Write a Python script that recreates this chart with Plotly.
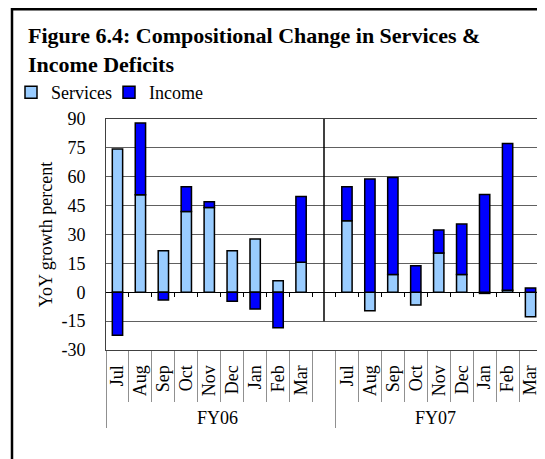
import plotly.graph_objects as go

months = ["Jul", "Aug", "Sep", "Oct", "Nov", "Dec", "Jan", "Feb", "Mar"]
fy06_services = [74.4, 50.6, 21.6, 41.9, 44.0, 21.6, 27.6, 6.0, 15.6]
fy06_income = [-22.4, 37.3, -4.0, 12.9, 3.0, -4.7, -8.7, -18.4, 34.1]
fy07_services = [37.1, -9.6, 9.2, -6.6, 20.4, 9.2, -0.6, 1.0, -12.7]
fy07_income = [17.7, 58.8, 50.4, 13.8, 12.0, 26.2, 50.8, 76.3, 2.2]
y_ticks = [-30, -15, 0, 15, 30, 45, 60, 75, 90]
y_tick_labels = ["-30", "-15", "0", "15", "30", "45", "60", "75", "90"]

# categories: FY06 months + blank gap, FY07 months
x_groups = ["FY06"] * 10 + ["FY07"] * 9
x_months = months + [" "] + months
services = fy06_services + [None] + fy07_services
income = fy06_income + [None] + fy07_income
n = len(x_months)

FONT = "Liberation Serif, Times New Roman, serif"
LIGHT = "#99CCFF"
DARK = "#0000FF"

W, H = 537, 451          # page body has an 8px margin
L, R, T, B = 98, 3, 111, 109
PW, PH = W - L - R, H - T - B

fig = go.Figure()
fig.add_trace(go.Bar(
    x=[x_groups, x_months], y=services, name="Services",
    marker=dict(color=LIGHT, line=dict(color="black", width=1.5)),
    width=0.45,
))
fig.add_trace(go.Bar(
    x=[x_groups, x_months], y=income, name="Income",
    marker=dict(color=DARK, line=dict(color="black", width=1.5)),
    width=0.45,
))
# helper traces for the overlay axes (cell dividers and zero-line ticks)
fig.add_trace(go.Scatter(x=[None], y=[None], xaxis="x2", mode="markers",
                         showlegend=False, hoverinfo="skip"))
fig.add_trace(go.Scatter(x=[None], y=[None], xaxis="x3", mode="markers",
                         showlegend=False, hoverinfo="skip"))

boundaries = [i + 0.5 for i in range(n - 1)]

fig.update_layout(
    width=W, height=H,
    margin=dict(l=L, r=R, t=T, b=B, autoexpand=False),
    paper_bgcolor="white", plot_bgcolor="white",
    barmode="relative",
    font=dict(family=FONT, size=18, color="black"),
    title=dict(
        text="<b>Figure 6.4: Compositional Change in Services &amp;<br>Income Deficits</b>",
        font=dict(family=FONT, size=22, color="black"),
        xref="container", yref="container", x=20 / W, xanchor="left",
        y=1 - 35 / H, yanchor="top",
    ),
    legend=dict(
        orientation="h", xref="container", yref="container",
        x=3 / W, xanchor="left", y=1 - 66 / H, yanchor="top",
        font=dict(family=FONT, size=18), bgcolor="rgba(0,0,0,0)",
        itemwidth=30, tracegroupgap=0, entrywidth=53,
    ),
    showlegend=True,
    xaxis=dict(
        type="multicategory", showgrid=False, ticks="",
        showline=True, linecolor="#404040", linewidth=1, mirror=True,
        tickangle=-90, tickfont=dict(family=FONT, size=18),
        ticklabelstandoff=7,
        showdividers=True, dividercolor="#909090", dividerwidth=1,
    ),
    xaxis2=dict(
        overlaying="x", anchor="y", side="bottom", type="linear",
        range=[-0.5, n - 0.5], tickvals=boundaries, ticks="outside",
        ticklen=51, tickcolor="#909090", tickwidth=1,
        showticklabels=False, showgrid=False, zeroline=False, showline=False,
    ),
    xaxis3=dict(
        overlaying="x", anchor="free", position=0.25, type="linear",
        range=[-0.5, n - 0.5], tickvals=boundaries, ticks="outside",
        ticklen=4, tickcolor="black", tickwidth=1,
        showticklabels=False, showgrid=False, zeroline=False,
        showline=True, linecolor="black", linewidth=1,
    ),
    yaxis=dict(
        range=[-30, 90], tickvals=y_ticks, ticktext=y_tick_labels,
        showgrid=True, gridcolor="#606060", gridwidth=1, zeroline=False,
        showline=True, linecolor="#404040", linewidth=1, mirror=True,
        ticks="outside", ticklen=16, tickcolor="rgba(0,0,0,0)",
        tickfont=dict(family=FONT, size=18),
        title=dict(text="YoY growth percent", font=dict(family=FONT, size=18),
                   standoff=4),
    ),
    shapes=[
        dict(type="line", xref="x2", yref="y", x0=9, x1=9, y0=-15, y1=90,
             line=dict(color="black", width=1.5)),
        dict(type="rect", xref="paper", yref="paper",
             x0=(4 - L) / PW, x1=(W + 10 - L) / PW,
             y0=(T + PH - (H + 10)) / PH, y1=(T + PH - 1.2) / PH,
             line=dict(color="black", width=2.5), fillcolor="rgba(0,0,0,0)",
             layer="above"),
    ],
)

fig.write_html("out.html")
